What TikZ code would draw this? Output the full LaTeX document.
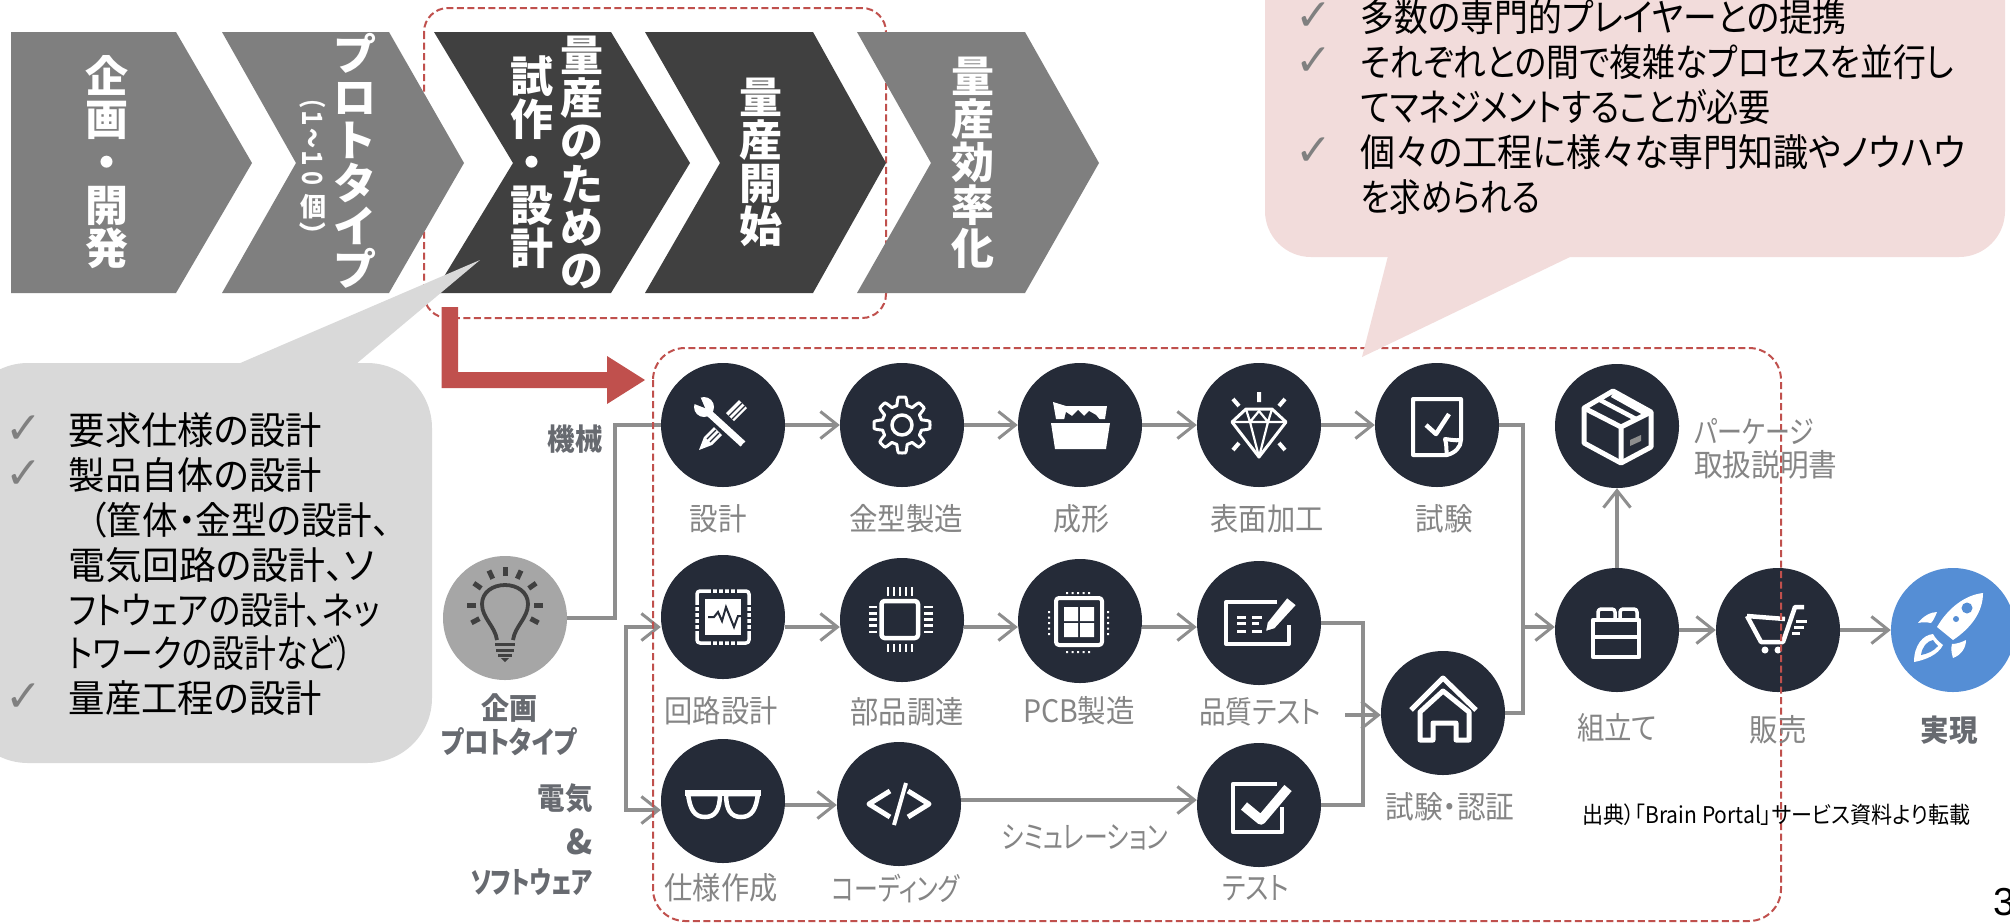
\documentclass[tikz,border=0pt]{standalone}
\usepackage{fontspec}
\usepackage{graphicx}
\usetikzlibrary{arrows.meta,calc}
\newfontfamily\jp[RawFeature={+palt}]{Noto Sans CJK JP}
\newfontfamily\jpf{Noto Sans CJK JP}
\newfontfamily\chkf{DejaVu Sans}
\setmainfont{Liberation Sans}
\definecolor{navy}{HTML}{252B38}
\definecolor{lingray}{HTML}{8E8E8E}
\definecolor{lblgray}{HTML}{858585}
\definecolor{blbgray}{HTML}{676A70}
\definecolor{chevlight}{HTML}{7F7F7F}
\definecolor{chevdark}{HTML}{404040}
\definecolor{redc}{HTML}{C0504D}
\definecolor{graybub}{HTML}{D9D9D9}
\definecolor{pinkbub}{HTML}{F2DCDB}
\definecolor{rocketc}{HTML}{558ED5}
\definecolor{bulbc}{HTML}{A6A6A6}
\newcommand{\fw}[2]{\resizebox{#1pt}{\height}{#2}}
\newcommand{\chev}[5]{\fill[#5] (#1,32) -- (#2,32) -- (#3,163) -- (#2,293) -- (#1,293) -- (#4,163) -- cycle;}
\newcommand{\tln}[5]{\node[txtline,anchor=west] (#1) at (#2,#3) {\fw{#4}{#5}};}
\newcommand{\ckm}[3]{\node[ckmark] (#1) at (#2,#3) {✓};}
\newcommand{\lb}[5]{\node[lbl] (#1) at (#2,#3) {\fw{#4}{#5}};}
\newcommand{\blb}[5]{\node[blbl] (#1) at (#2,#3) {\fw{#4}{#5}};}
\tikzset{
  x=1pt,y=-1pt,
  ic/.style={circle,fill=navy,minimum size=124pt,inner sep=0pt,draw=none},
  flow/.style={draw=lingray,line width=3.5pt},
  arr/.style={flow,-{Straight Barb[length=17pt,width=27pt,line width=3pt]}},
  barr/.style={flow,{Straight Barb[length=17pt,width=27pt,line width=3pt]}-{Straight Barb[length=17pt,width=27pt,line width=3pt]}},
  dashbox/.style={draw=redc,line width=2pt,dash pattern=on 7pt off 3.5pt},
  stack/.style={inner sep=0pt,align=center,text=white,font=\jpf\bfseries\fontsize{43}{43}\selectfont},
  lbl/.style={inner sep=0pt,text=lblgray,font=\jp\fontsize{31}{33}\selectfont},
  blbl/.style={inner sep=0pt,text=blbgray,font=\jp\bfseries\fontsize{30}{32}\selectfont},
  txtline/.style={inner sep=0pt,text=black,font=\jp\fontsize{38}{40}\selectfont},
  ckmark/.style={inner sep=0pt,text=gray,font=\chkf\fontsize{44}{46}\selectfont},
  ln/.style={draw=white,line width=#1,line join=round},
  ln/.default=3.5pt
}
\begin{document}
\begin{tikzpicture}
\useasboundingbox (0,0) rectangle (2010,922);
\fill[white] (0,0) rectangle (2010,922);
% dashed frame behind the chevrons
\draw[dashbox,rounded corners=24pt] (424,8) rectangle (886,318);
% chevrons
\fill[chevlight] (11,32) -- (176,32) -- (252,163) -- (176,293) -- (11,293) -- cycle;
\chev{222}{389}{464}{296}{chevlight}
\chev{434}{611}{690}{513}{chevdark}
\chev{645}{813}{886}{720}{chevdark}
\chev{857}{1025}{1099}{931}{chevlight}
\node[stack] (s1) at (107,162) {企\\画\\・\\開\\発};
\node[stack] (s2) at (355,161) {プ\\ロ\\ト\\タ\\イ\\プ};
\node[inner sep=0pt,text=white,font=\jpf\bfseries\fontsize{27}{27}\selectfont,rotate=-90] (s2a) at (313,138) {\fw{100}{（１～１０}};
\node[inner sep=0pt,text=white,font=\jpf\bfseries\fontsize{26}{26}\selectfont] (s2b) at (313,207) {個};
\node[inner sep=0pt,text=white,font=\jpf\bfseries\fontsize{27}{27}\selectfont,rotate=-90] (s2c) at (313,235) {）};
\node[stack] (s3) at (582,162) {量\\産\\の\\た\\め\\の};
\node[stack] (s3b) at (532,162) {試\\作\\・\\設\\計};
\node[stack] (s4) at (761,162) {量\\産\\開\\始};
\node[stack] (s5) at (973,163) {量\\産\\効\\率\\化};
% gray callout
\fill[graybub,rounded corners=65pt] (-37,363) rectangle (432,763);
\fill[graybub] (238,364) -- (480,260) -- (356,364) -- cycle;
\ckm{k1}{24}{430}
\ckm{k2}{24}{475}
\ckm{k3}{24}{698}
\tln{g1}{68.5}{430}{253}{要求仕様の設計}
\tln{g2}{68.5}{475}{253}{製品自体の設計}
\tln{g3}{89}{520}{301}{（筐体・金型の設計、}
\tln{g4}{68.5}{565}{306}{電気回路の設計、ソ}
\tln{g5}{68.5}{610}{311}{フトウェアの設計、ネッ}
\tln{g6}{68.5}{653}{284}{トワークの設計など）}
\tln{g7}{68.5}{698}{253}{量産工程の設計}
% red arrow
\fill[redc] (441.5,307) -- (458,307) -- (458,372) -- (607,372) -- (607,356) -- (645,380) -- (607,404) -- (607,388) -- (441.5,388) -- cycle;
% circles
\node[ic,fill=bulbc] (bulb) at (505,618) {};
\node[ic] (c11) at (723,425) {};
\node[ic] (c12) at (902,425) {};
\node[ic] (c13) at (1080,425) {};
\node[ic] (c14) at (1259,425) {};
\node[ic] (c15) at (1437,425) {};
\node[ic] (pk) at (1617,426) {};
\node[ic] (c21) at (723,617) {};
\node[ic] (c22) at (902,620) {};
\node[ic] (c23) at (1080,621) {};
\node[ic] (c24) at (1259,623) {};
\node[ic] (c31) at (723,801) {};
\node[ic] (c32) at (899,804) {};
\node[ic] (c34) at (1259,805) {};
\node[ic] (hs) at (1443,713) {};
\node[ic] (as) at (1617,630) {};
\node[ic] (ct) at (1778,630) {};
\node[ic,fill=rocketc] (rk) at (1953,630) {};
% junctions
\coordinate (r2) at (0,627);
\coordinate (r3a) at (0,805);
\coordinate (r3b) at (0,800);
\coordinate (j1) at (615,618);
\coordinate (j2) at (615,425);
\coordinate (j3) at (626,627);
\coordinate (j4) at (626,810);
\coordinate (j5) at (1523,425);
\coordinate (j6) at (1523,713);
\coordinate (j7) at (1523,627);
\coordinate (j8) at (1363,623);
\coordinate (j9) at (1363,805);
\coordinate (j10) at (1345,715);
% connectors
\draw[flow] (bulb.east) -- (j1) -- (j2) -- (c11.west);
\draw[barr] (c21.west |- r2) -- (j3) -- (j4) -- (c31.west |- j4);
\draw[arr] (c11.east) -- (c12.west);
\draw[arr] (c12.east) -- (c13.west);
\draw[arr] (c13.east) -- (c14.west);
\draw[arr] (c14.east) -- (c15.west);
\draw[arr] (c21.east |- r2) -- (c22.west |- r2);
\draw[arr] (c22.east |- r2) -- (c23.west |- r2);
\draw[arr] (c23.east |- r2) -- (c24.west |- r2);
\draw[arr] (c31.east |- r3a) -- (c32.west |- r3a);
\draw[arr] (c32.east |- r3b) -- (c34.west |- r3b);
\draw[flow] (c24.east) -- (j8) -- (j9) -- (c34.east);
\draw[arr] (j10) -- (hs.west |- j10);
\draw[flow] (c15.east) -- (j5) -- (j6) -- (hs.east);
\draw[arr] (j7) -- (as.west |- j7);
\draw[arr] (as.north) -- (pk.south);
\draw[arr] (as.east) -- (ct.west);
\draw[arr] (ct.east) -- (rk.west);
% icons
\begin{scope}[shift={(bulb)}]
  \draw[chevdark,line width=3.8pt] (-8,22) .. controls (-10,8) and (-23,0) .. (-23,-14) .. controls (-23,-26) and (-12,-33) .. (0,-33) .. controls (12,-33) and (23,-26) .. (23,-14) .. controls (23,0) and (10,8) .. (8,22);
  \foreach \yy/\ww in {26/10,32/9,37/7}{\draw[chevdark,line width=3pt] (-\ww,\yy) -- (\ww,\yy);}
  \fill[chevdark] (-4,40) -- (4,40) -- (0,44) -- cycle;
  \foreach \a in {-90,-65,-115,-35,-145,0,180,28,152}{\draw[chevdark,line width=5pt] ($(0,-13)+(\a:29)$) -- ($(0,-13)+(\a:38)$);}
\end{scope}
\begin{scope}[shift={(c11)}]
  \draw[white,line width=7pt] (-14,-12) -- (20,19);
  \fill[white] (-19,-18) circle (10);
  \fill[navy] (-18,-17) -- (-31,-22) -- (-24,-31) -- cycle;
  \fill[navy] (21,20) circle (1.8);
  \fill[white] (3,-12) -- (11,-4) -- (24,-17) -- (16,-25) -- cycle;
  \draw[navy,line width=1.2pt] (6,-9) -- (19,-22) (9,-6) -- (22,-19);
  \fill[white] (-9,2) -- (-1,10) -- (-11,20) -- (-24,25) -- (-19,12) -- cycle;
  \draw[navy,line width=1.2pt] (-7,5) -- (-16,14) (-4,8) -- (-13,17);
\end{scope}
\begin{scope}[shift={(c12)}]
  \draw[ln=3pt] plot[domain=0:360,samples=145] (\x:{24+4*min(1,max(-1,2.2*cos(8*\x)))}) -- cycle;
  \draw[ln=3.5pt] (0,0) circle (10);
\end{scope}
\begin{scope}[shift={(c13)}]
  \fill[white] (-27,-23) -- (-14,-19) -- (27,-19) -- (25,-6) -- (-24,-6) -- cycle;
  \fill[navy] (-16,-5) -- (-14,-13) -- (-8,-9) -- (-2,-15) -- (4,-9) -- (9,-14) -- (16,-10) -- (20,-5) -- cycle;
  \fill[white] (-29,-2) -- (30,-2) -- (26,24) -- (-25,24) -- cycle;
\end{scope}
\begin{scope}[shift={(c14)}]
  \draw[ln=3pt] (-13,-16) -- (13,-16) -- (27,-3) -- (0,32) -- (-27,-3) -- cycle;
  \draw[ln=2.2pt] (-27,-3) -- (27,-3) (-13,-16) -- (-9,-3) -- (0,32) -- (9,-3) -- (13,-16) (-9,-3) -- (0,-14) -- (9,-3);
  \draw[ln=4pt] (0,-33) -- (0,-23) (-26,-26) -- (-20,-19) (26,-26) -- (20,-19) (-26,25) -- (-20,18) (26,25) -- (20,18);
\end{scope}
\begin{scope}[shift={(c15)}]
  \draw[ln=4pt] (24,15) -- (24,-26) -- (-24,-26) -- (-24,30) -- (10,30) .. controls (18,28) and (24,22) .. (24,15) .. controls (18,16) and (10,14) .. (8,14) .. controls (10,20) and (9,26) .. (10,30);
  \draw[ln=4.5pt] (-11,0) -- (-1,9) -- (12,-11);
\end{scope}
\begin{scope}[shift={(pk)}]
  \draw[ln=5pt] (-4,-35) -- (34,-14) -- (34,21) -- (4,37) -- (-33,17) -- (-33,-18) -- cycle;
  \draw[ln=5pt] (-33,-18) -- (4,1) -- (34,-14) (4,1) -- (4,37);
  \draw[ln=4.5pt] (-17,-26) -- (19,-7) (-5,-31) -- (29,-12);
  \fill[lingray] (13,14) -- (24,9) -- (24,15) -- (13,20) -- cycle;
\end{scope}
\begin{scope}[shift={(c21)}]
  \draw[ln=3.5pt,rounded corners=3pt] (-26,-26) rectangle (26,26);
  \fill[white] (-18,-18) rectangle (18,18);
  \foreach \t in {-11,-5,1,7,13}{\draw[navy,line width=1.6pt] (\t,-28) -- (\t,-24) (\t,24) -- (\t,28) (-28,\t) -- (-24,\t) (24,\t) -- (28,\t);}
  \draw[navy,line width=2pt] (-15,0) -- (-9,0) -- (-5,-5) -- (-1,4) -- (3,-10) -- (9,5) -- (11,10) -- (15,-1) -- (18,-1);
\end{scope}
\begin{scope}[shift={(c22)}]
  \draw[ln=4.5pt,rounded corners=3pt] (-20.5,-19) rectangle (16,18);
  \foreach \t in {0,1,2,3,4}{
    \draw[ln=2.6pt] ({-14+6*\t},-33) -- ({-14+6*\t},-24) ({-14+6*\t},24) -- ({-14+6*\t},32);
    \draw[ln=2.6pt] (-33,{-13+6.2*\t}) -- (-25,{-13+6.2*\t}) (22,{-13+6.2*\t}) -- (31,{-13+6.2*\t});
  }
\end{scope}
\begin{scope}[shift={(c23)}]
  \draw[ln=4pt,rounded corners=3pt] (-24,-23) rectangle (22,24);
  \fill[white] (-16,-14) rectangle (-2,0) (0,-14) rectangle (14,0) (-16,2) rectangle (-2,16) (0,2) rectangle (14,16);
  \foreach \t in {0,1,2,3,4}{
    \fill[white] ({-14+5.5*\t},-29) rectangle ++(2.2,2.2) ({-14+5.5*\t},30) rectangle ++(2.2,2.2);
    \fill[white] (-32,{-10+5.5*\t}) rectangle ++(2.2,2.2) (27,{-10+5.5*\t}) rectangle ++(2.2,2.2);
  }
\end{scope}
\begin{scope}[shift={(c24)}]
  \draw[ln=4pt] (18,-21) -- (-33,-21) -- (-33,21) -- (30,21) -- (30,2);
  \draw[ln=3pt] (-22,-6) -- (-13,-6) (-7,-6) -- (3,-6) (-22,0) -- (-13,0) (-22,8) -- (-13,8) (-7,8) -- (3,8) (-7,0) -- (0,0);
  \fill[white,draw=navy,line width=1.6pt] (8,-1) -- (28,-26) -- (38,-18) -- (16,6) -- (6,9) -- cycle;
\end{scope}
\begin{scope}[shift={(c31)}]
  \draw[ln=4.5pt] (-35,-7) -- (-3,-7) .. controls (-3,9) and (-8,16) .. (-18,16) .. controls (-29,16) and (-33,8) .. cycle;
  \draw[ln=4.5pt] (35,-7) -- (3,-7) .. controls (3,9) and (8,16) .. (18,16) .. controls (29,16) and (33,8) .. cycle;
  \draw[ln=6pt] (-38,-8) -- (38,-8);
\end{scope}
\begin{scope}[shift={(c32)}]
  \draw[ln=5pt] (-9,-13) -- (-30,0) -- (-9,13) (9,-13) -- (30,0) -- (9,13);
  \draw[ln=4pt] (7,-21) -- (-5,21);
\end{scope}
\begin{scope}[shift={(c34)}]
  \draw[ln=4.5pt] (18,-21) -- (-26,-21) -- (-26,27) -- (23,27) -- (23,2);
  \draw[ln=9.5pt] (-15,1) -- (2,15) -- (29,-17);
\end{scope}
\begin{scope}[shift={(hs)}]
  \draw[ln=5pt] (-32,-3) -- (0,-35) -- (33,-3);
  \draw[ln=5pt] (-23,27) -- (-23,-1) -- (0,-22) -- (26,-1) -- (26,27) -- (13,27) -- (13,10) -- (-10,10) -- (-10,27) -- cycle;
\end{scope}
\begin{scope}[shift={(as)}]
  \draw[ln=4.5pt] (-24,-10) rectangle (22,27);
  \draw[ln=4.5pt] (-24,7) -- (22,7);
  \draw[ln=3.5pt,rounded corners=3pt] (-19,-10) -- (-19,-21) -- (-2,-21) -- (-2,-10) (3,-10) -- (3,-21) -- (20,-21) -- (20,-10);
\end{scope}
\begin{scope}[shift={(ct)}]
  \draw[ln=4.5pt] (-31,-14) -- (7,-11) (-31,-14) -- (-17,12) -- (5,12) -- (17,-23) -- (26,-23);
  \fill[white] (-13,20) circle (3.5) (0,20) circle (3.5);
  \draw[ln=3pt] (18,-9) -- (29,-9) (16,-3) -- (26,-3) (14,3) -- (22,3);
\end{scope}
\begin{scope}[shift={(rk)}]
  \fill[white] (30,-37) .. controls (12,-35) and (-5,-22) .. (-16,-3) -- (0,10) .. controls (18,-2) and (30,-18) .. cycle;
  \fill[rocketc] (14,-22) circle (5.5) (3,-11) circle (3);
  \fill[white] (-35,-7) .. controls (-30,-14) and (-22,-18) .. (-16,-18) .. controls (-18,-13) and (-20,-9) .. (-22,-7) .. controls (-27,-8) and (-31,-8) .. cycle;
  \fill[white] (0,28) .. controls (-2,22) and (-2,18) .. (-1,14) .. controls (4,14) and (9,12) .. (13,10) .. controls (13,18) and (8,25) .. (0,28);
  \fill[white] (-39,32) .. controls (-39,15) and (-30,5) .. (-20,4) .. controls (-18,8) and (-14,12) .. (-10,15) .. controls (-15,25) and (-28,30) .. cycle;
  \fill[rocketc] (-32,25) .. controls (-31,17) and (-26,11) .. (-20,10) .. controls (-19,12) and (-17,14) .. (-15,16) .. controls (-19,21) and (-26,24) .. cycle;
\end{scope}
% big dashed frame
\draw[dashbox,rounded corners=32pt] (653,348) rectangle (1781,921);
% pink callout
\fill[pinkbub,rounded corners=46pt] (1265,-60) rectangle (2005,257);
\fill[pinkbub] (1388,256) -- (1362,357) -- (1572,256) -- cycle;
\ckm{p1}{1314}{17}
\ckm{p2}{1314}{62}
\ckm{p3}{1314}{152}
\tln{q1}{1360.5}{17}{486}{多数の専門的プレイヤーとの提携}
\tln{q2}{1360.5}{62}{593}{それぞれとの間で複雑なプロセスを並行し}
\tln{q3}{1360.5}{107}{410}{てマネジメントすることが必要}
\tln{q4}{1360.5}{152}{605}{個々の工程に様々な専門知識やノウハウ}
\tln{q5}{1360.5}{197}{180}{を求められる}
% labels
\lb{l11}{718}{519}{57}{設計}
\lb{l12}{906}{519}{114}{金型製造}
\lb{l13}{1081}{519}{56}{成形}
\lb{l14}{1267}{519}{113}{表面加工}
\lb{l15}{1444}{519}{57}{試験}
\node[lbl,anchor=west] (l16) at (1694,432) {\fw{120}{パーケージ}};
\node[lbl,anchor=west] (l17) at (1694,465) {\fw{143}{取扱説明書}};
\lb{l21}{721}{711}{113}{回路設計}
\lb{l22}{907}{712}{113}{部品調達}
\lb{l23}{1079}{711}{112}{PCB製造}
\lb{l24}{1260}{712}{122}{品質テスト}
\lb{l31}{721}{888}{113}{仕様作成}
\lb{l32}{896}{888}{128}{コーディング}
\lb{l33}{1085}{837}{166}{シミュレーション}
\lb{l34}{1256}{888}{66}{テスト}
\lb{l35}{1450}{807}{129}{試験・認証}
\lb{l36}{1617}{728}{80}{組立て}
\lb{l37}{1778}{730}{57}{販売}
\blb{l38}{1949}{730}{57}{実現}
\blb{l41}{509}{708}{56}{企画}
\blb{l42}{509}{742}{135}{プロトタイプ}
\blb{l43}{575}{439}{55}{機械}
\node[blbl,anchor=east] (l44) at (593,798) {\fw{55}{電気}};
\node[blbl,anchor=east,font=\jp\bfseries\fontsize{34}{36}\selectfont] (l45) at (593,842) {\&};
\node[blbl,anchor=east] (l46) at (593,882) {\fw{122}{ソフトウェア}};
\node[inner sep=0pt,anchor=west,text=black,font=\jp\fontsize{23}{25}\selectfont] (src) at (1582,815) {\fw{388}{出典）「Brain Portal」サービス資料より転載}};
\node[inner sep=0pt,anchor=west,text=black,font=\rmfamily\fontsize{39}{40}\selectfont] (pg) at (1993,902) {3};
\end{tikzpicture}
\end{document}
